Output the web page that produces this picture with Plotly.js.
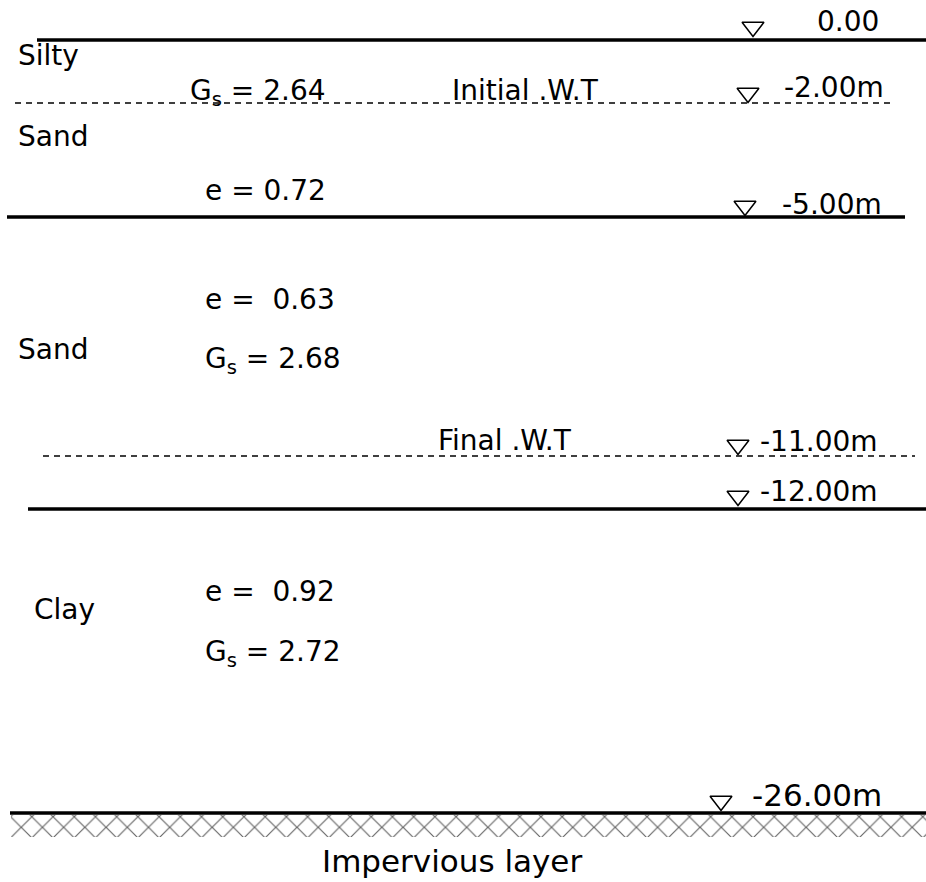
<!DOCTYPE html>
<html>
<head>
<meta charset="utf-8">
<script src="https://cdn.plot.ly/plotly-3.0.1.min.js"></script>
<style>html,body{margin:0;padding:0;background:#fff;}</style>
</head>
<body>
<div id="chart" style="width:926px;height:882px;"></div>
<script>
// Soil profile data
const levelLabels = ['0.00', '-2.00m', '-5.00m', '-11.00m', '-12.00m', '-26.00m'];
const layerNames = ['Silty', 'Sand', 'Sand', 'Clay'];
const voidRatios = ['e = 0.72', 'e =  0.63', 'e =  0.92'];
const specificGravity = ['G<sub>s</sub> = 2.64', 'G<sub>s</sub> = 2.68', 'G<sub>s</sub> = 2.72'];
const waterTables = ['Initial .W.T', 'Final .W.T'];
const baseLabel = ['Impervious layer'];

// drawing coordinates (diagram is not to scale)
const boundaryY = [40, 217, 509, 813];          // solid boundaries: 0, -5, -12, -26
const boundaryX0 = [37, 7, 28, 10];
const boundaryX1 = [926, 905, 926, 926];
const wtY = [103, 456];                          // dashed water tables: -2, -11
const wtX0 = [15, 43];
const wtX1 = [893, 915];

const FONT = 'DejaVu Sans, Arial, sans-serif';
const FS = 28;

const traces = [];

// hatched impervious layer
traces.push({
  x: [11, 926, 926, 11, 11], y: [815, 815, 837, 837, 815],
  mode: 'lines', fill: 'toself', line: {width: 0, color: 'rgba(0,0,0,0)'},
  fillcolor: 'white',
  fillpattern: {shape: 'x', size: 15, solidity: 0.15, fgcolor: '#666', bgcolor: 'white'},
  hoverinfo: 'skip', showlegend: false
});

for (let i = 0; i < boundaryY.length; i++) {
  traces.push({
    x: [boundaryX0[i], boundaryX1[i]], y: [boundaryY[i], boundaryY[i]],
    mode: 'lines', line: {color: '#000', width: 3.5},
    hoverinfo: 'skip', showlegend: false
  });
}
for (let i = 0; i < wtY.length; i++) {
  traces.push({
    x: [wtX0[i], wtX1[i]], y: [wtY[i], wtY[i]],
    mode: 'lines', line: {color: '#000', width: 1.5, dash: '6px,5px'},
    hoverinfo: 'skip', showlegend: false
  });
}

// level markers (open triangles)
const triX = [753, 748, 745, 738, 738, 721];
const triY = [27, 93, 206, 445, 496, 801];
traces.push({
  x: triX, y: triY, mode: 'markers',
  marker: {symbol: 'triangle-down-open', size: 19, color: '#000', line: {width: 1.5, color: '#000'}},
  hoverinfo: 'skip', showlegend: false
});

const annotations = [];
function txt(t, x, y, size, anchor) {
  annotations.push({
    text: t, x: x, y: y, xref: 'x', yref: 'y', showarrow: false,
    xanchor: anchor || 'left', yanchor: 'middle',
    font: {family: FONT, size: size || FS, color: '#000'}
  });
}

const levX = [815, 782, 780, 758, 758, 750];
const levY = [21, 87, 204, 441, 491, 795];
const levFS = [FS, FS, FS, FS, FS, 31];
for (let i = 0; i < levelLabels.length; i++) txt(levelLabels[i], levX[i], levY[i], levFS[i]);

const nameX = [16, 16, 16, 32];
const nameY = [55, 136, 349, 609];
for (let i = 0; i < layerNames.length; i++) txt(layerNames[i], nameX[i], nameY[i]);

const eX = [203, 203, 203];
const eY = [190, 299, 591];
for (let i = 0; i < voidRatios.length; i++) txt(voidRatios[i], eX[i], eY[i]);

const gX = [188, 203, 203];
const gY = [92, 360, 653];
for (let i = 0; i < specificGravity.length; i++) txt(specificGravity[i], gX[i], gY[i]);

const wtLX = [450, 436];
const wtLY = [90, 440];
for (let i = 0; i < waterTables.length; i++) txt(waterTables[i], wtLX[i], wtLY[i]);

txt(baseLabel[0], 452, 861, 31, 'center');

const layout = {
  width: 926, height: 882,
  margin: {l: 0, r: 0, t: 0, b: 0},
  paper_bgcolor: '#fff', plot_bgcolor: '#fff',
  xaxis: {range: [0, 926], visible: false, fixedrange: true},
  yaxis: {range: [882, 0], visible: false, fixedrange: true},
  annotations: annotations,
  showlegend: false
};

Plotly.newPlot('chart', traces, layout, {staticPlot: true, displayModeBar: false});
</script>
</body>
</html>
